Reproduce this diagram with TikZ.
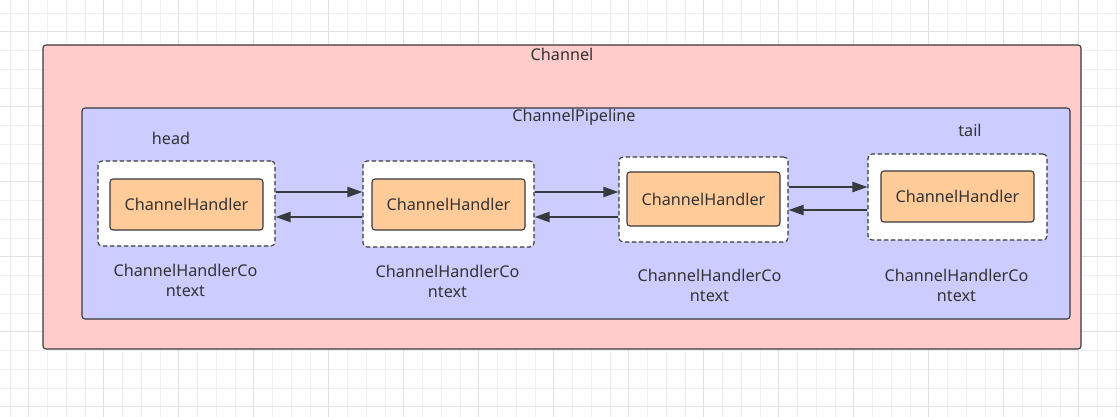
\documentclass[tikz,border=0pt]{standalone}
\usepackage{fontspec}
\setmainfont{Noto Sans}
\usetikzlibrary{arrows.meta}
\definecolor{strokec}{HTML}{36393D}
\definecolor{txtc}{HTML}{333333}
\definecolor{chanfill}{HTML}{FFCCCC}
\definecolor{pipefill}{HTML}{CCCCFF}
\definecolor{handfill}{HTML}{FFCC99}
\definecolor{gridminor}{HTML}{F0F0F0}
\definecolor{gridmajor}{HTML}{E2E2E2}
\begin{document}
\begin{tikzpicture}[x=1pt,y=-1pt,
  every node/.style={text=txtc, font=\fontsize{16.2}{20}\selectfont, inner sep=0pt},
  frame/.style={draw=strokec, line width=1.1pt, rounded corners=3pt},
  chanbox/.style={frame, fill=chanfill},
  pipebox/.style={frame, fill=pipefill},
  ctxbox/.style={draw=strokec, line width=1.1pt, rounded corners=4pt, fill=white, dash pattern=on 4.5pt off 2.5pt},
  handbox/.style={frame, fill=handfill},
  lbl/.style={align=center},
  arr/.style={draw=strokec, line width=2.2pt, -{Triangle[length=15pt,width=10pt]}}
]
\useasboundingbox (0,0) rectangle (1120,417);
\fill[white] (0,0) rectangle (1120,417);
\foreach \i in {0,...,60} {
  \draw[gridminor, line width=0.8pt] (10+18.75*\i,0) -- (10+18.75*\i,417);
  \draw[gridminor, line width=0.8pt] (0,13+18.75*\i) -- (1120,13+18.75*\i);
}
\foreach \i in {0,...,15} {
  \draw[gridmajor, line width=0.8pt] (28.75+75*\i,0) -- (28.75+75*\i,417);
  \draw[gridmajor, line width=0.8pt] (0,31.75+75*\i) -- (1120,31.75+75*\i);
}
% containers
\node[chanbox, minimum width=1038pt, minimum height=304pt] (chan) at (562,197) {};
\node (chanlbl) at (562,54) {Channel};
\node[pipebox, minimum width=988pt, minimum height=211pt] (pipe) at (576,213.5) {};
\node (pipelbl) at (574,117) {ChannelPipeline};
\node (headlbl) at (171,138) {head};
\node (taillbl) at (970,130) {tail};
% contexts
\node[ctxbox, minimum width=177pt, minimum height=85pt] (c1) at (186.5,203.5) {};
\node[ctxbox, minimum width=171pt, minimum height=86pt] (c2) at (448.5,204) {};
\node[ctxbox, minimum width=169pt, minimum height=85pt] (c3) at (703.5,199.5) {};
\node[ctxbox, minimum width=179pt, minimum height=86pt] (c4) at (957.5,197) {};
% handlers
\node[handbox, minimum width=153pt, minimum height=51pt] (h1) at (186.5,204.5) {ChannelHandler};
\node[handbox, minimum width=153pt, minimum height=51pt] (h2) at (448.5,204.5) {ChannelHandler};
\node[handbox, minimum width=153pt, minimum height=54pt] (h3) at (703.5,199) {ChannelHandler};
\node[handbox, minimum width=153pt, minimum height=51pt] (h4) at (957.5,196.5) {ChannelHandler};
% context labels
\node[lbl] (l1) at (185.5,280) {ChannelHandlerCo\\ntext};
\node[lbl] (l2) at (447.5,281) {ChannelHandlerCo\\ntext};
\node[lbl] (l3) at (709.5,285) {ChannelHandlerCo\\ntext};
\node[lbl] (l4) at (956.5,285) {ChannelHandlerCo\\ntext};
% arrows
\draw[arr] (c1.east |- 0,192) -- (c2.west |- 0,192);
\draw[arr] (c2.west |- 0,217) -- (c1.east |- 0,217);
\draw[arr] (c2.east |- 0,192) -- (c3.west |- 0,192);
\draw[arr] (c3.west |- 0,217) -- (c2.east |- 0,217);
\draw[arr] (c3.east |- 0,187) -- (c4.west |- 0,187);
\draw[arr] (c4.west |- 0,210) -- (c3.east |- 0,210);
\end{tikzpicture}
\end{document}
